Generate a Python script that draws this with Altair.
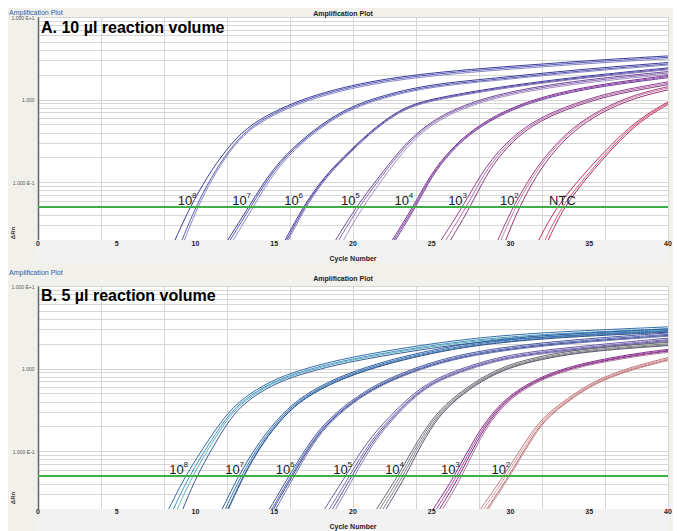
import altair as alt
import pandas as pd
import math

W, H = 630, 223
FONT = "Liberation Sans"

# ---------------- Panel A : 10 µl reaction volume ----------------
A_label_base = ["10", "10", "10", "10", "10", "10", "10", "NTC"]
A_label_exp = ["8", "7", "6", "5", "4", "3", "2", ""]
A_label_cyc = [9.33, 12.8, 16.1, 19.7, 23.1, 26.5, 29.8, 33.3]

A_cyc = [
    [9.15, 10.0, 11.0, 12.06, 13.33, 15.0, 16.7, 18.8, 21.0, 23.7, 27.5, 31.5, 35.5, 40.0],
    [12.2, 13.5, 15.0, 16.7, 18.4, 20.3, 23.7, 26.5, 29.4, 33.0, 36.5, 40.0],
    [15.8, 16.9, 18.0, 19.0, 20.7, 22.0, 23.7, 26.5, 30.0, 35.0, 40.0],
    [19.1, 20.35, 21.7, 23.05, 24.3, 26.2, 29.4, 33.7, 37.0, 40.0],
    [22.6, 23.9, 25.0, 26.2, 27.3, 29.0, 31.5, 34.7, 37.5, 40.0],
    [25.9, 27.2, 28.3, 29.4, 30.7, 32.6, 35.7, 38.0, 40.0],
    [29.4, 30.3, 31.5, 32.6, 34.0, 35.7, 37.8, 40.0],
    [32.2, 33.2, 34.9, 36.2, 37.6, 38.9, 40.0],
]
A_val = [
    [0.02, 0.05, 0.115, 0.238, 0.45, 0.69, 0.96, 1.27, 1.58, 1.9, 2.25, 2.55, 2.9, 3.25],
    [0.02, 0.05, 0.148, 0.31, 0.55, 0.88, 1.34, 1.58, 1.78, 2.1, 2.4, 2.7],
    [0.02, 0.05, 0.1, 0.166, 0.34, 0.55, 0.88, 1.12, 1.45, 1.9, 2.35],
    [0.02, 0.05, 0.11, 0.24, 0.42, 0.73, 1.17, 1.58, 1.85, 2.1],
    [0.02, 0.05, 0.126, 0.24, 0.38, 0.63, 1.0, 1.38, 1.65, 1.9],
    [0.02, 0.05, 0.126, 0.24, 0.42, 0.69, 1.1, 1.35, 1.58],
    [0.02, 0.05, 0.126, 0.24, 0.45, 0.73, 1.1, 1.38],
    [0.02, 0.05, 0.126, 0.24, 0.45, 0.69, 0.91],
]
# replicate spread: cycle offset where each replicate leaves the
# bottom edge, and relative height of each replicate at the plateau
A_shift = [
    [-0.45, 0.0, 0.15], [-0.15, 0.0, 0.2], [-0.1, 0.0, 0.1], [-0.2, 0.0, 0.3],
    [-0.1, 0.0, 0.1], [-0.3, 0.0, 0.3], [-0.2, 0.0, 0.3], [-0.4, 0.0, 0.2],
]
A_scale = [
    [1.04, 1.0, 0.96], [1.04, 1.0, 0.97], [1.03, 1.0, 0.98], [1.04, 1.0, 0.96],
    [1.03, 1.0, 0.97], [1.04, 1.0, 0.96], [1.04, 1.0, 0.95], [1.03, 1.0, 0.96],
]
A_colors = [
    ["#3b3b9c", "#5a5ab4", "#8585c8"],
    ["#3a3a98", "#5656ae", "#8a8ac8"],
    ["#38389e", "#5848a8", "#8a7ab8"],
    ["#6a4a9c", "#8a6ab2", "#a48fc4"],
    ["#7a3092", "#9a4aa2", "#6a40a0"],
    ["#9a4090", "#b070a8", "#8a3a80"],
    ["#a84080", "#c482a8", "#983070"],
    ["#c02860", "#d25c82", "#b03060"],
]

# ---------------- Panel B : 5 µl reaction volume ----------------
B_label_base = ["10", "10", "10", "10", "10", "10", "10"]
B_label_exp = ["8", "7", "6", "5", "4", "3", "2"]
B_label_cyc = [8.8, 12.35, 15.55, 19.2, 22.5, 26.05, 29.25]

B_cyc = [
    [8.75, 9.7, 11.0, 12.25, 13.5, 15.2, 17.3, 19.9, 23.7, 26.2, 29.4, 33.7, 40.0],
    [12.0, 12.95, 14.2, 15.6, 16.9, 19.0, 21.6, 23.7, 26.2, 29.4, 33.7, 40.0],
    [14.9, 16.1, 17.1, 18.2, 19.9, 21.6, 23.7, 26.2, 29.4, 33.7, 40.0],
    [18.6, 19.85, 21.1, 22.4, 23.7, 24.9, 26.2, 29.4, 33.7, 40.0],
    [21.8, 23.1, 23.9, 25.1, 26.2, 27.7, 29.4, 31.5, 34.7, 40.0],
    [25.4, 26.7, 27.9, 29.4, 31.1, 32.6, 34.7, 37.8, 40.0],
    [28.4, 29.8, 31.1, 32.1, 33.7, 35.3, 37.5, 40.0],
]
B_val = [
    [0.02, 0.05, 0.129, 0.3, 0.48, 0.74, 1.0, 1.32, 1.75, 2.05, 2.4, 2.7, 3.05],
    [0.02, 0.05, 0.129, 0.28, 0.46, 0.76, 1.12, 1.42, 1.8, 2.2, 2.55, 2.9],
    [0.02, 0.05, 0.106, 0.21, 0.4, 0.64, 0.95, 1.35, 1.74, 2.14, 2.6],
    [0.02, 0.05, 0.129, 0.25, 0.45, 0.66, 0.87, 1.4, 1.74, 2.25],
    [0.02, 0.05, 0.1, 0.24, 0.4, 0.66, 1.0, 1.32, 1.7, 2.0],
    [0.02, 0.05, 0.15, 0.38, 0.64, 0.87, 1.15, 1.47, 1.66],
    [0.02, 0.05, 0.129, 0.25, 0.43, 0.69, 1.0, 1.32],
]
B_shift = [
    [-0.45, -0.15, 0.1, 0.45], [-0.3, -0.1, 0.05, 0.1], [-0.2, -0.05, 0.05, 0.2],
    [-0.4, -0.1, 0.1, 0.3], [-0.3, -0.1, 0.1, 0.3], [-0.3, -0.1, 0.1, 0.3],
    [-0.3, -0.1, 0.1, 0.2],
]
B_scale = [
    [1.05, 1.0, 0.97, 0.93], [1.04, 1.0, 0.97, 0.95], [1.04, 1.0, 0.97, 0.95],
    [1.04, 1.0, 0.97, 0.95], [1.04, 1.0, 0.97, 0.95], [1.03, 1.0, 0.98, 0.95],
    [1.03, 1.0, 0.97, 0.95],
]
B_colors = [
    ["#2f6fa8", "#4a90c2", "#5cb6c0", "#3a5a9c"],
    ["#2f5f9f", "#3a72b2", "#4a86bc", "#2a4f8a"],
    ["#4a58a0", "#5a6ab2", "#3a4890", "#6a74b4"],
    ["#6a5aa8", "#7a6ab2", "#5a5098", "#8a80ba"],
    ["#666676", "#7a8a7a", "#8a7a94", "#5a5a6a"],
    ["#8a2a8c", "#a04a9a", "#7a2a80", "#b070a0"],
    ["#c47a84", "#d8a0a0", "#b86a76", "#cc9090"],
]

THRESHOLD = 0.05
X_TICKS = [0, 5, 10, 15, 20, 25, 30, 35, 40]
GRID_Y = [0.02, 0.03, 0.04, 0.05, 0.06, 0.07, 0.08, 0.09,
          0.1, 0.2, 0.3, 0.4, 0.5, 0.6, 0.7, 0.8, 0.9,
          1, 2, 3, 4, 5, 6, 7, 8, 9, 10]


def curves_frame(tag, cyc, val, shift, scale, colors):
    rows = []
    for gi in range(len(cyc)):
        n = len(cyc[gi])
        for ri in range(len(shift[gi])):
            key = f"{tag}{gi}_{ri}"
            for j in range(n):
                c, v = cyc[gi][j], val[gi][j]
                # replicate offset fades out as the curve rises (curves converge),
                # plateau height difference grows in
                t = min(1.0, max(0.0, math.log10(v / 0.02) / math.log10(50)))
                cc = 40.0 if j == n - 1 else c + shift[gi][ri] * (1 - t)
                vv = v * scale[gi][ri] ** t
                rows.append({"key": key, "cycle": cc, "dRn": vv, "col": colors[gi][ri]})
    return pd.DataFrame(rows)


def panel(tag, cyc, val, shift, scale, colors, lab_base, lab_exp, lab_cyc,
          heading, blue_y, black_y, head_y, tick_dy, title_dy, drn_y):
    df = curves_frame(tag, cyc, val, shift, scale, colors)
    xs = alt.Scale(domain=[0, 40], nice=False, zero=False)
    ys = alt.Scale(type="log", domain=[0.02, 10], nice=False)

    lines = alt.Chart(df).mark_line(strokeWidth=1, interpolate="basis", clip=True).encode(
        x=alt.X("cycle:Q", scale=xs,
                axis=alt.Axis(values=list(range(41)), grid=True, labels=False, ticks=False,
                              domain=False, title=None, gridColor="#d6d6d6", gridWidth=1)),
        y=alt.Y("dRn:Q", scale=ys,
                axis=alt.Axis(values=GRID_Y, grid=True, ticks=False, title=None,
                              gridColor="#d6d6d6", gridWidth=1,
                              domainColor="#666666", domainWidth=1.5,
                              labelExpr="datum.value == 10 ? '1.000 E+1' : datum.value == 1 ? '1.000' : datum.value == 0.1 ? '1.000 E-1' : ''",
                              labelFontSize=5, labelColor="#555555", labelPadding=4,
                              labelOverlap=False, labelFont=FONT)),
        color=alt.Color("col:N", scale=None),
        detail="key:N",
        order="cycle:Q",
    )

    thr = alt.Chart(pd.DataFrame({"t": [THRESHOLD]})).mark_rule(
        color="#3fae49", strokeWidth=2).encode(y=alt.Y("t:Q", scale=ys))

    band = alt.Chart(pd.DataFrame({"a": [0]})).mark_rect(color="#f2f2f2").encode(
        x=alt.value(0), x2=alt.value(W), y=alt.value(H), y2=alt.value(H + 22))

    ticks = alt.Chart(pd.DataFrame({"c": X_TICKS})).mark_text(
        font=FONT, fontSize=7, fontWeight="bold", color="#222222", baseline="middle").encode(
        x=alt.X("c:Q", scale=xs), y=alt.value(H + tick_dy), text=alt.Text("c:Q"))

    labs = pd.DataFrame({"c": lab_cyc, "base": lab_base, "exp": lab_exp, "y": [0.06] * len(lab_cyc)})
    base_txt = alt.Chart(labs).mark_text(font=FONT, fontSize=13, color="#1a1a1a",
                                         baseline="middle").encode(
        x=alt.X("c:Q", scale=xs), y=alt.Y("y:Q", scale=ys), text="base:N")
    exp_txt = alt.Chart(labs).mark_text(font=FONT, fontSize=8, color="#1a1a1a",
                                        baseline="middle", align="left", dx=7, dy=-5).encode(
        x=alt.X("c:Q", scale=xs), y=alt.Y("y:Q", scale=ys), text="exp:N")

    texts = pd.DataFrame({
        "txt": ["Amplification Plot", "Amplification Plot", heading, "Cycle Number", "ΔRn"],
    })
    blue = alt.Chart(texts.iloc[[0]]).mark_text(
        font=FONT, fontSize=7, color="#2a5db0", align="left", baseline="top").encode(
        x=alt.value(-29), y=alt.value(blue_y), text="txt:N")
    black = alt.Chart(texts.iloc[[1]]).mark_text(
        font=FONT, fontSize=7, fontWeight="bold", color="#222222", align="center",
        baseline="middle").encode(x=alt.value(305), y=alt.value(black_y), text="txt:N")
    head = alt.Chart(texts.iloc[[2]]).mark_text(
        font=FONT, fontSize=16, fontWeight="bold", color="#000000", align="left",
        baseline="middle").encode(x=alt.value(3), y=alt.value(head_y), text="txt:N")
    xtitle = alt.Chart(texts.iloc[[3]]).mark_text(
        font=FONT, fontSize=7, fontWeight="bold", color="#222222", align="center",
        baseline="middle").encode(x=alt.value(W / 2), y=alt.value(H + title_dy), text="txt:N")
    drn = alt.Chart(texts.iloc[[4]]).mark_text(
        font=FONT, fontSize=6, fontWeight="bold", color="#333333", align="center",
        baseline="middle", angle=270).encode(x=alt.value(-25), y=alt.value(drn_y), text="txt:N")

    return alt.layer(lines, thr, band, ticks, base_txt, exp_txt, blue, black, head, xtitle, drn
                     ).properties(width=W, height=H)


pA = panel("A", A_cyc, A_val, A_shift, A_scale, A_colors, A_label_base, A_label_exp, A_label_cyc,
           "A. 10 µl reaction volume", -8, -3, 11, 4, 19, 216)
pB = panel("B", B_cyc, B_val, B_shift, B_scale, B_colors, B_label_base, B_label_exp, B_label_cyc,
           "B. 5 µl reaction volume", -17, -7, 10, 3, 18, 212)

chart = alt.vconcat(pA, pB, spacing=46, bounds="flush").properties(
    padding=0, background="#f1f0ea"
).configure_view(stroke="#9a9a9a", strokeWidth=1, fill="white")

chart.save("out.html", embed_options={"renderer": "svg", "actions": False})
